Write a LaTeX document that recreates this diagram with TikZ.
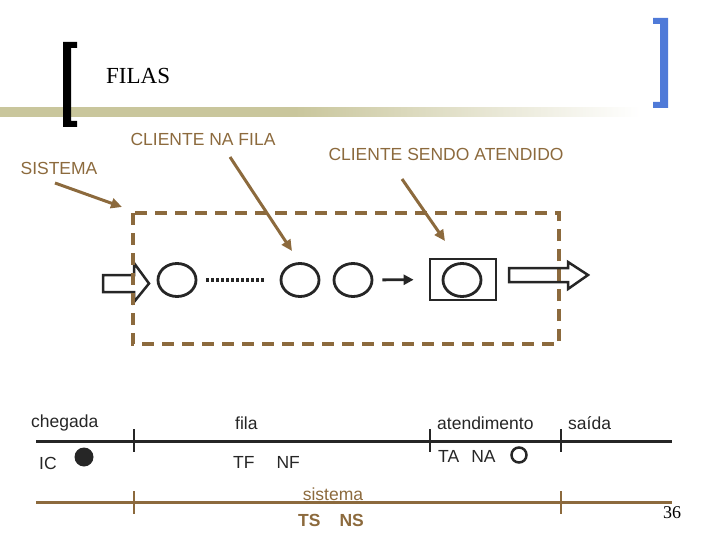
\documentclass[tikz,border=0pt]{standalone}
\usepackage{fontspec}
\setmainfont{Liberation Sans}
\newfontfamily\titlefont{Liberation Serif}
\usetikzlibrary{arrows.meta,shapes.geometric}
\definecolor{brownline}{HTML}{8C6A3D}
\definecolor{khaki}{HTML}{C9C69C}
\definecolor{bluebr}{HTML}{4F7AD8}
\definecolor{ink}{HTML}{262626}
\pgfdeclarehorizontalshading{barfade}{100bp}{color(0bp)=(khaki); color(25bp)=(khaki); color(48bp)=(khaki); color(75bp)=(white); color(100bp)=(white)}

\begin{document}
\begin{tikzpicture}[x=1pt,y=-1pt,
  lbl/.style={text=brownline,font=\fontsize{17.5}{18}\selectfont,inner sep=0},
  txt/.style={text=ink,font=\fontsize{17.5}{18}\selectfont,inner sep=0},
  cust/.style={draw=ink,line width=2.8pt,ellipse,minimum width=38,minimum height=33,inner sep=0},
  pointer/.style={brownline,line width=3pt,-{Triangle[length=11pt,width=10pt]}},
  tick/.style={line width=2.5pt}]
\useasboundingbox (0,0) rectangle (720,540);

% cabecalho
\shade[shading=barfade] (0,108) rectangle (640,117);
\fill (63,42) -- (77,42) -- (77,48) -- (71,48) -- (71,121) -- (77,121) -- (77,127) -- (63,127) -- cycle;
\fill[bluebr] (668,18) -- (653,18) -- (653,24) -- (660,24) -- (660,102) -- (653,102) -- (653,108) -- (668,108) -- cycle;
\node[font=\titlefont\fontsize{23}{23}\selectfont,anchor=west,inner sep=0] (titulo) at (106,76) {FILAS};

% rotulos
\node[lbl] (lfila) at (203,139) {CLIENTE NA FILA};
\node[lbl] (latend) at (446,154) {CLIENTE SENDO ATENDIDO};
\node[lbl] (lsis) at (59,168) {SISTEMA};
\coordinate (sisfrom) at (55,183);
\coordinate (sisto) at (122,207);
\coordinate (filafrom) at (230,157);
\coordinate (filato) at (292,251);
\coordinate (atendfrom) at (402,179);
\coordinate (atendto) at (445,241);

% sistema
\draw[ink,line width=2.5pt,fill=white] (103,275) -- (134,275) -- (134,263) -- (149,283.5) -- (134,302) -- (134,292) -- (103,292) -- cycle;
\draw[brownline,line width=4pt,dash pattern=on 12pt off 8pt] (133,213) rectangle (559,344);
\node[cust] (c1) at (177,280) {};
\node[cust] (c2) at (300,280) {};
\node[cust] (c3) at (353,280) {};
\node[draw=ink,line width=2.8pt,minimum width=66,minimum height=41,inner sep=0] (posto) at (463,279.5) {};
\node[cust] (c4) at (462,280) {};
\draw[ink,line width=4pt,dash pattern=on 3pt off 2pt,shorten <=9pt,shorten >=14pt] (c1) -- (c2);
\draw[ink,line width=2.8pt,-{Triangle[length=10pt,width=10pt]},shorten <=9pt,shorten >=15pt] (c3) -- (posto);
\draw[ink,line width=2.5pt] (509,268) -- (568,268) -- (568,262) -- (588,275) -- (568,289) -- (568,282) -- (509,282) -- cycle;

\draw[pointer] (sisfrom) -- (sisto);
\draw[pointer] (filafrom) -- (filato);
\draw[pointer] (atendfrom) -- (atendto);

% linha do tempo
\coordinate (ini) at (36,441);
\coordinate (fim) at (672,441);
\draw[ink,line width=3pt] (ini) -- (fim);
\foreach \x in {134,430,561} \draw[ink,tick] (\x,429) -- (\x,452);
\coordinate (sini) at (36,502);
\coordinate (sfim) at (672,502);
\draw[brownline,line width=3pt] (sini) -- (sfim);
\foreach \x in {134,561} \draw[brownline,tick] (\x,491) -- (\x,514);

\node[txt,anchor=west] (cheg) at (31,423) {chegada};
\node[txt,anchor=west] (fila) at (235,423) {fila};
\node[txt,anchor=west] (atend) at (437,423) {atendimento};
\node[txt,anchor=west] (saida) at (568,423) {saída};
\node[txt,anchor=west] (ic) at (39,463) {IC};
\node[circle,fill=ink,minimum size=19,inner sep=0] (icdot) at (84,457) {};
\node[txt,anchor=west] (tfnf) at (233,462) {TF\hspace{22pt}NF};
\node[txt,anchor=west] (tana) at (438,456) {TA\hspace{12pt}NA};
\node[circle,draw=ink,line width=2.5pt,minimum size=15,inner sep=0] (nadot) at (519,455) {};
\node[lbl] (lsistema) at (333,494) {sistema};
\node[lbl,anchor=west,font=\bfseries\fontsize{17.5}{18}\selectfont] (tsns) at (298,520) {TS\hspace{19pt}NS};
\node[font=\titlefont\fontsize{18}{18}\selectfont,inner sep=0] (pag) at (672,513) {36};
\end{tikzpicture}
\end{document}
